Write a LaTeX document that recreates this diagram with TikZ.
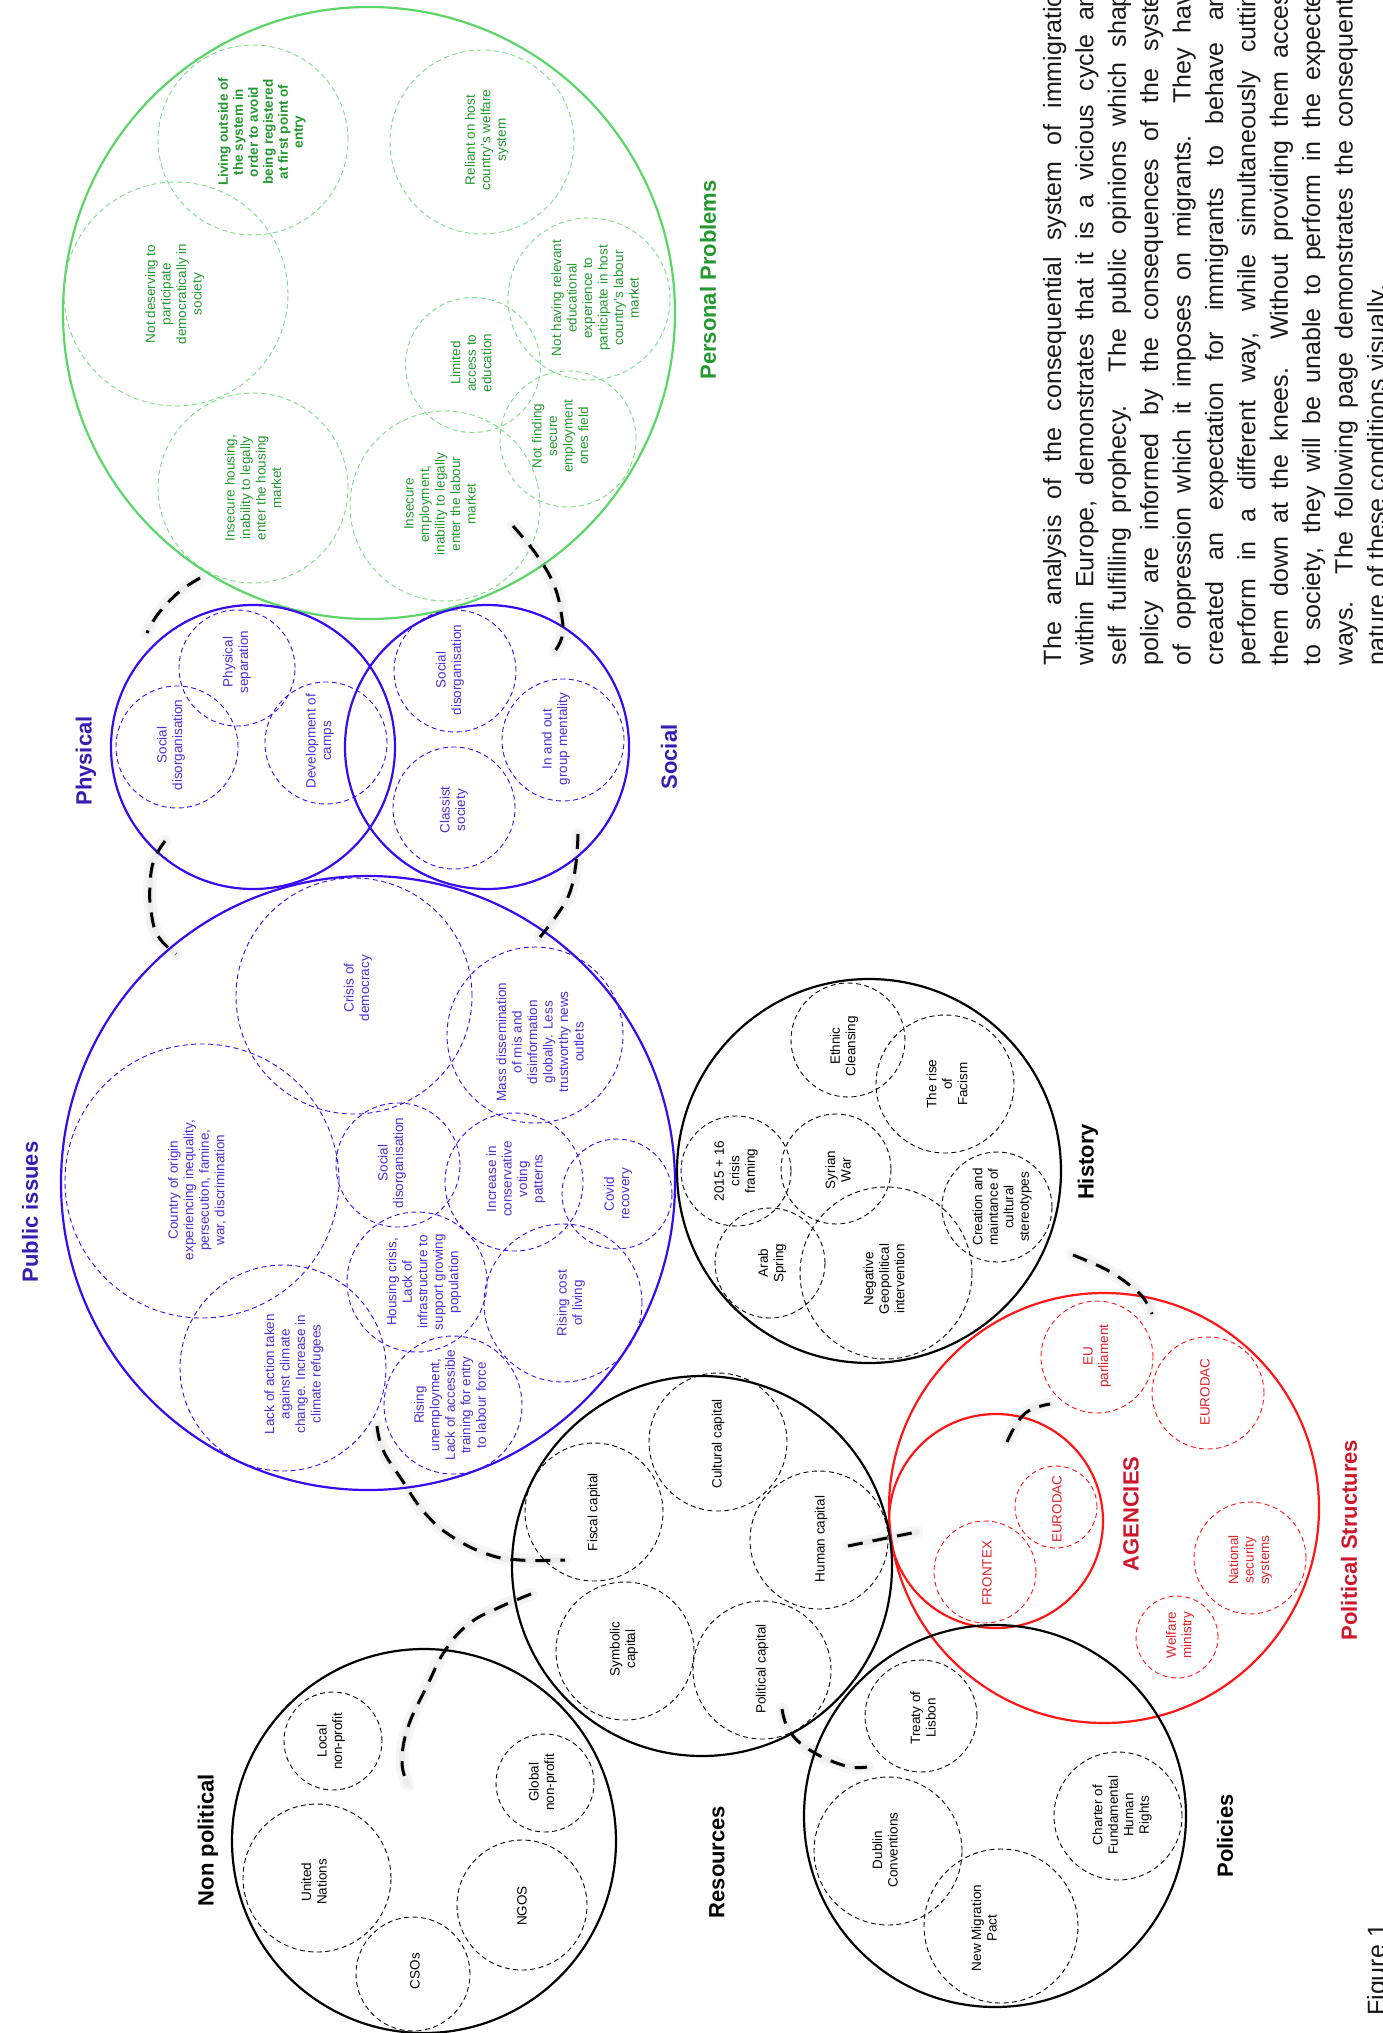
\documentclass[tikz,border=0pt]{standalone}
\usepackage{fontspec}
\setmainfont{Liberation Sans}
\definecolor{pgreen}{RGB}{92,214,104}
\definecolor{pgreenlt}{RGB}{120,222,132}
\definecolor{pgreentx}{RGB}{36,152,48}
\definecolor{pblue}{RGB}{56,12,240}
\definecolor{pbluetx}{RGB}{78,48,214}
\definecolor{pbluehd}{RGB}{56,28,178}
\definecolor{pred}{RGB}{255,22,22}
\definecolor{predtx}{RGB}{222,34,44}
\definecolor{predhd}{RGB}{206,22,44}
\newcommand{\mylink}[1]{%
  \draw[haloc] plot[smooth,tension=0.7] coordinates {#1};
  \draw[haloc,line width=6pt] plot[smooth,tension=0.7] coordinates {#1};
  \draw[linkc] plot[smooth,tension=0.7] coordinates {#1};}
\begin{document}
\begin{tikzpicture}[x=1pt,y=-1pt,
  every node/.style={inner sep=0pt,outer sep=0pt},
  ringc/.style={circle,draw=#1,line width=2.2pt},
  subc/.style={circle,draw=#1,line width=0.9pt,dash pattern=on 5pt off 3.5pt},
  dia/.style={minimum size=#1pt},
  ntext/.style={rotate=90,align=center,text=#1,font=\fontsize{13.5}{15.5}\selectfont},
  htext/.style={rotate=90,text=#1,font=\fontsize{22}{26}\selectfont\bfseries},
  linkc/.style={line width=3pt,dash pattern=on 15pt off 10pt,black},
  haloc/.style={line width=13pt,black,opacity=0.035,line cap=round,line join=round},
  paraline/.style={rotate=90,anchor=base west,text=black!90,font=\fontsize{25}{30}\selectfont}]
\useasboundingbox (0,0) rectangle (1382,2033);
\clip (0,0) rectangle (1382,2033);
\fill[white] (0,0) rectangle (1382,2033);

% ---------------- Personal problems ----------------
\node[ringc=pgreen,dia=612] (pp) at (369,313) {};
\node[subc=pgreenlt,dia=190] (g1) at (253,140) {};
\node[subc=pgreenlt,dia=184] (g2) at (482,142) {};
\node[subc=pgreenlt,dia=224] (g3) at (176,294) {};
\node[subc=pgreenlt,dia=162] (g4) at (589,299) {};
\node[subc=pgreenlt,dia=135] (g5) at (473,365) {};
\node[subc=pgreenlt,dia=136] (g6) at (568,439) {};
\node[subc=pgreenlt,dia=190] (g7) at (253,488) {};
\node[subc=pgreenlt,dia=190] (g8) at (445,506) {};
\node[ntext=pgreentx,font=\fontsize{13.5}{15}\selectfont\bfseries] (g1t) at (262,132)
  {Living outside of\\the system in\\order to avoid\\being registered\\at first point of\\entry};
\node[ntext=pgreentx] (g2t) at (487,140) {Reliant on host\\country's welfare\\system};
\node[ntext=pgreentx] (g3t) at (175,294) {Not deserving to\\participate\\democratically in\\society};
\node[ntext=pgreentx] (g4t) at (595,298) {Not having relevant\\educational\\experience to\\participate in host\\country's labour\\market};
\node[ntext=pgreentx] (g5t) at (471,363) {Limited\\access to\\education};
\node[ntext=pgreentx] (g6t) at (560,436) {Not finding\\secure\\employment\\ones field};
\node[ntext=pgreentx] (g7t) at (253,488) {Insecure housing,\\inability to legally\\enter the housing\\market};
\node[ntext=pgreentx] (g8t) at (440,504) {Insecure\\employment,\\inability to legally\\enter the labour\\market};
\node[htext=pgreentx] (pph) at (708,280) {Personal Problems};

% ---------------- Physical / Social ----------------
\node[ringc=pblue,dia=284] (ph) at (253,747) {};
\node[ringc=pblue,dia=284] (so) at (487,747) {};
\node[subc=pblue,dia=116] (ph1) at (237,668) {};
\node[subc=pblue,dia=122] (ph2) at (177,747) {};
\node[subc=pblue,dia=122] (ph3) at (326,743) {};
\node[subc=pblue,dia=122] (so1) at (455,671) {};
\node[subc=pblue,dia=122] (so2) at (563,740) {};
\node[subc=pblue,dia=122] (so3) at (454,808) {};
\node[ntext=pbluetx] (ph1t) at (237,662) {Physical\\separation};
\node[ntext=pbluetx] (ph2t) at (171,745) {Social\\disorganisation};
\node[ntext=pbluetx] (ph3t) at (320,741) {Development of\\camps};
\node[ntext=pbluetx] (so1t) at (450,670) {Social\\disorganisation};
\node[ntext=pbluetx] (so2t) at (556,739) {In and out\\group mentality};
\node[ntext=pbluetx] (so3t) at (454,810) {Classist\\society};
\node[htext=pbluehd] (phh) at (86,761) {Physical};
\node[htext=pbluehd] (soh) at (669,757) {Social};

% ---------------- Public issues ----------------
\node[ringc=pblue,dia=614] (pi) at (368,1183) {};
\node[subc=pblue,dia=236] (pi1) at (354,996) {};
\node[subc=pblue,dia=176] (pi2) at (535,1035) {};
\node[subc=pblue,dia=274] (pi3) at (202,1181) {};
\node[subc=pblue,dia=124] (pi4) at (398,1165) {};
\node[subc=pblue,dia=138] (pi5) at (514,1182) {};
\node[subc=pblue,dia=110] (pi6) at (617,1194) {};
\node[subc=pblue,dia=140] (pi7) at (417,1282) {};
\node[subc=pblue,dia=158] (pi8) at (563,1303) {};
\node[subc=pblue,dia=206] (pi9) at (283,1368) {};
\node[subc=pblue,dia=138] (pi10) at (453,1405) {};
\node[ntext=pbluetx] (pi1t) at (358,988) {Crisis of\\democracy};
\node[ntext=pbluetx] (pi2t) at (540,1042) {Mass dissemination\\of mis and\\disinformation\\globally. Less\\trustworthy news\\outlets};
\node[ntext=pbluetx] (pi3t) at (197,1190) {Country of origin\\experiencing inequality,\\persecution, famine,\\war, discrimination};
\node[ntext=pbluetx] (pi4t) at (392,1163) {Social\\disorganisation};
\node[ntext=pbluetx] (pi5t) at (516,1179) {Increase in\\conservative\\voting\\patterns};
\node[ntext=pbluetx] (pi6t) at (618,1194) {Covid\\recovery};
\node[ntext=pbluetx] (pi7t) at (424,1282) {Housing crisis,\\Lack of\\infrastructure to\\support growing\\population};
\node[ntext=pbluetx] (pi8t) at (571,1303) {Rising cost\\of living};
\node[ntext=pbluetx] (pi9t) at (294,1374) {Lack of action taken\\against climate\\change. Increase in\\climate refugees};
\node[ntext=pbluetx] (pi10t) at (450,1405) {Rising\\unemployment,\\Lack of accessible\\training for entry\\to labour force};
\node[htext=pbluehd] (pih) at (30,1212) {Public issues};

% ---------------- History ----------------
\node[ringc=black,dia=384] (hi) at (869,1171) {};
\node[subc=black,dia=114] (hi1) at (848,1040) {};
\node[subc=black,dia=138] (hi2) at (945,1084) {};
\node[subc=black,dia=110] (hi3) at (736,1171) {};
\node[subc=black,dia=110] (hi4) at (836,1169) {};
\node[subc=black,dia=110] (hi5) at (997,1207) {};
\node[subc=black,dia=110] (hi6) at (770,1263) {};
\node[subc=black,dia=172] (hi7) at (886,1273) {};
\node[ntext=black] (hi1t) at (844,1046) {Ethnic\\Cleansing};
\node[ntext=black] (hi2t) at (947,1084) {The rise\\of\\Facism};
\node[ntext=black] (hi3t) at (736,1171) {2015 + 16\\crisis\\framing};
\node[ntext=black] (hi4t) at (838,1170) {Syrian\\War};
\node[ntext=black] (hi5t) at (1002,1207) {Creation and\\maintance of\\cultural\\stereotypes};
\node[ntext=black] (hi6t) at (772,1263) {Arab\\Spring};
\node[ntext=black] (hi7t) at (884,1279) {Negative\\Geopolitical\\intervention};
\node[htext=black] (hih) at (1088,1162) {History};

% ---------------- Political structures ----------------
\node[ringc=pred,dia=430] (ps) at (1104,1508) {};
\node[ringc=pred,dia=214] (ag) at (996,1521) {};
\node[subc=pred,dia=112] (ps1) at (1097,1357) {};
\node[subc=pred,dia=112] (ps2) at (1208,1393) {};
\node[subc=pred,dia=82] (ps3) at (1056,1507) {};
\node[subc=pred,dia=102] (ps4) at (985,1572) {};
\node[subc=pred,dia=112] (ps5) at (1250,1558) {};
\node[subc=pred,dia=82] (ps6) at (1177,1637) {};
\node[ntext=predtx] (ps1t) at (1097,1356) {EU\\parliament};
\node[ntext=predtx] (ps2t) at (1205,1392) {EURODAC};
\node[ntext=predtx] (ps3t) at (1057,1509) {EURODAC};
\node[ntext=predtx] (ps4t) at (987,1573) {FRONTEX};
\node[ntext=predtx] (ps5t) at (1250,1560) {National\\security\\systems};
\node[ntext=predtx] (ps6t) at (1180,1635) {Welfare\\ministry};
\node[htext=predhd] (agh) at (1131,1514) {AGENCIES};
\node[htext=predhd] (psh) at (1349,1540) {Political Structures};

% ---------------- Resources ----------------
\node[ringc=black,dia=380] (re) at (702,1566) {};
\node[subc=black,dia=138] (re1) at (594,1512) {};
\node[subc=black,dia=138] (re2) at (718,1442) {};
\node[subc=black,dia=138] (re3) at (819,1540) {};
\node[subc=black,dia=138] (re4) at (625,1651) {};
\node[subc=black,dia=138] (re5) at (762,1670) {};
\node[ntext=black] (re1t) at (594,1512) {Fiscal capital};
\node[ntext=black] (re2t) at (718,1444) {Cultural capital};
\node[ntext=black] (re3t) at (821,1539) {Human capital};
\node[ntext=black] (re4t) at (624,1649) {Symbolic\\capital};
\node[ntext=black] (re5t) at (762,1669) {Political capital};
\node[htext=black] (reh) at (717,1862) {Resources};

% ---------------- Non political ----------------
\node[ringc=black,dia=384] (np) at (424,1841) {};
\node[subc=black,dia=98] (np1) at (333,1741) {};
\node[subc=black,dia=148] (np2) at (317,1878) {};
\node[subc=black,dia=98] (np3) at (545,1783) {};
\node[subc=black,dia=130] (np4) at (522,1905) {};
\node[subc=black,dia=114] (np5) at (413,1974) {};
\node[ntext=black] (np1t) at (331,1741) {Local\\non-profit};
\node[ntext=black] (np2t) at (314,1882) {United\\Nations};
\node[ntext=black] (np3t) at (543,1782) {Global\\non-profit};
\node[ntext=black] (np4t) at (522,1906) {NGOS};
\node[ntext=black] (np5t) at (415,1971) {CSOs};
\node[htext=black] (nph) at (208,1840) {Non political};

% ---------------- Policies ----------------
\node[ringc=black,dia=382] (po) at (995,1816) {};
\node[subc=black,dia=112] (po1) at (921,1716) {};
\node[subc=black,dia=148] (po2) at (888,1851) {};
\node[subc=black,dia=154] (po3) at (1001,1926) {};
\node[subc=black,dia=128] (po4) at (1118,1816) {};
\node[ntext=black] (po1t) at (923,1718) {Treaty of\\Lisbon};
\node[ntext=black] (po2t) at (885,1850) {Dublin\\Conventions};
\node[ntext=black] (po3t) at (984,1928) {New Migration\\Pact};
\node[ntext=black] (po4t) at (1122,1815) {Charter of\\Fundamental\\Human\\Rights};
\node[htext=black] (poh) at (1225,1836) {Policies};

% ---------------- Dashed links between the groups ----------------
\coordinate (a1) at (200,578); \coordinate (a2) at (179,592);
\coordinate (a3) at (158,614); \coordinate (a4) at (147,633);
\mylink{(a1) (a2) (a3) (a4)}
\coordinate (b1) at (513,526); \coordinate (b2) at (536,554);
\coordinate (b3) at (554,585); \coordinate (b4) at (562,618);
\coordinate (b5) at (562,637); \coordinate (b6) at (555,651);
\mylink{(b1) (b2) (b3) (b4) (b5) (b6)}
\coordinate (c1) at (165,841); \coordinate (c2) at (154,860);
\coordinate (c3) at (150,885); \coordinate (c4) at (151,911);
\coordinate (c5) at (158,936); \coordinate (c6) at (176,954);
\mylink{(c1) (c2) (c3) (c4) (c5) (c6)}
\coordinate (d1) at (578,834); \coordinate (d2) at (576,863);
\coordinate (d3) at (570,892); \coordinate (d4) at (557,915);
\coordinate (d5) at (540,937);
\mylink{(d1) (d2) (d3) (d4) (d5)}
\coordinate (e1) at (377,1426); \coordinate (e2) at (383,1450);
\coordinate (e3) at (402,1480); \coordinate (e4) at (424,1512);
\coordinate (e5) at (451,1536); \coordinate (e6) at (487,1554);
\coordinate (e7) at (520,1560); \coordinate (e8) at (565,1560);
\mylink{(e1) (e2) (e3) (e4) (e5) (e6) (e7) (e8)}
\coordinate (f1) at (531,1594); \coordinate (f2) at (500,1607);
\coordinate (f3) at (470,1623); \coordinate (f4) at (446,1649);
\coordinate (f5) at (427,1686); \coordinate (f6) at (408,1727);
\coordinate (f7) at (402,1762); \coordinate (f8) at (408,1785);
\mylink{(f1) (f2) (f3) (f4) (f5) (f6) (f7) (f8)}
\coordinate (g1a) at (848,1546); \coordinate (g1b) at (882,1539);
\coordinate (g1c) at (917,1532);
\mylink{(g1a) (g1b) (g1c)}
\coordinate (h1) at (782,1709); \coordinate (h2) at (790,1732);
\coordinate (h3) at (813,1752); \coordinate (h4) at (846,1766);
\coordinate (h5) at (867,1767);
\mylink{(h1) (h2) (h3) (h4) (h5)}
\coordinate (i1) at (1073,1255); \coordinate (i2) at (1107,1270);
\coordinate (i3) at (1132,1287); \coordinate (i4) at (1145,1300);
\coordinate (i5) at (1152,1314);
\mylink{(i1) (i2) (i3) (i4) (i5)}
\coordinate (j1) at (1007,1442); \coordinate (j2) at (1017,1423);
\coordinate (j3) at (1030,1410); \coordinate (j4) at (1050,1404);
\mylink{(j1) (j2) (j3) (j4)}

% ---------------- Paragraph ----------------
\node[paraline] (l1) at (1061,665) {\makebox[672pt][s]{The analysis of the consequential system of immigratio}};
\node[paraline] (l2) at (1093.4,665) {\makebox[672pt][s]{within Europe, demonstrates that it is a vicious cycle an}};
\node[paraline] (l3) at (1125.8,665) {\makebox[672pt][s]{self fulfilling prophecy. The public opinions which shap}};
\node[paraline] (l4) at (1158.2,665) {\makebox[672pt][s]{policy are informed by the consequences of the syste}};
\node[paraline] (l5) at (1190.6,665) {\makebox[672pt][s]{of oppression which it imposes on migrants. They hav}};
\node[paraline] (l6) at (1223,665) {\makebox[672pt][s]{created an expectation for immigrants to behave an}};
\node[paraline] (l7) at (1255.4,665) {\makebox[672pt][s]{perform in a different way, while simultaneously cuttin}};
\node[paraline] (l8) at (1287.8,665) {\makebox[672pt][s]{them down at the knees. Without providing them acces}};
\node[paraline] (l9) at (1320.2,665) {\makebox[672pt][s]{to society, they will be unable to perform in the expecte}};
\node[paraline] (l10) at (1352.6,665) {\makebox[672pt][s]{ways. The following page demonstrates the consequenti}};
\node[paraline] (l11) at (1385,665) {nature of these conditions visually.};
\node[paraline,anchor=base east] (fig) at (1385,1924) {Figure 1};
\end{tikzpicture}
\end{document}
